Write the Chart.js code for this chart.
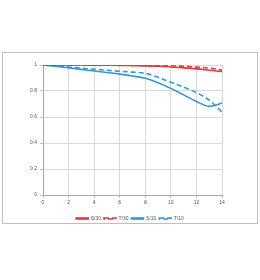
<!DOCTYPE html>
<html>
<head>
<meta charset="utf-8">
<script src="https://cdn.jsdelivr.net/npm/chart.js@4"></script>
<style>
  body { margin: 0; background: #fff; }
  #frame { position: absolute; left: 2px; top: 52px; width: 254px; height: 170px; border: 1px solid #bfbfbf; }
  #frame canvas { display: block; }
</style>
</head>
<body>
<div id="frame"><canvas id="mtfChart" width="254" height="170"></canvas></div>
<script>
// field position (mm) and MTF values
const xS30 = [0, 1, 2, 3, 4, 5, 6, 7, 8, 9, 10, 11, 12, 13, 14];
const s30 = [1, 1, 1, 1, 0.999, 0.998, 0.997, 0.995, 0.993, 0.99, 0.985, 0.978, 0.97, 0.96, 0.95];
const xT30 = [0, 1, 2, 3, 4, 5, 6, 7, 8, 9, 10, 11, 12, 13, 14];
const t30 = [1, 1, 1, 1, 1, 1, 0.999, 0.998, 0.997, 0.995, 0.993, 0.99, 0.984, 0.976, 0.962];
const xS10 = [0, 1, 2, 3, 4, 5, 6, 7, 8, 9, 10, 11, 12, 13, 13.5, 14];
const s10 = [1, 0.99, 0.978, 0.966, 0.954, 0.942, 0.93, 0.916, 0.898, 0.864, 0.82, 0.77, 0.72, 0.682, 0.69, 0.708];
const xT10 = [0, 1, 2, 3, 4, 5, 6, 7, 8, 9, 10, 11, 12, 13, 14];
const t10 = [1, 0.993, 0.985, 0.976, 0.967, 0.96, 0.952, 0.945, 0.936, 0.905, 0.867, 0.83, 0.787, 0.73, 0.638];
const xTicks = [0, 2, 4, 6, 8, 10, 12, 14];
const yTicks = [0, 0.2, 0.4, 0.6, 0.8, 1];

const red = '#e0393e';
const blue = '#3398d4';

const pts = (xs, ys) => xs.map((x, i) => ({ x: x, y: ys[i] }));

const ctx = document.getElementById('mtfChart').getContext('2d');

const mtfChart = new Chart(ctx, {
    type: 'line',
    data: {
        datasets: [
            { label: 'S/30', data: pts(xS30, s30), borderColor: red, borderWidth: 1.6 },
            { label: 'T/30', data: pts(xT30, t30), borderColor: red, borderWidth: 1.6, borderDash: [5, 3] },
            { label: 'S/10', data: pts(xS10, s10), borderColor: blue, borderWidth: 1.6 },
            { label: 'T/10', data: pts(xT10, t10), borderColor: blue, borderWidth: 1.6, borderDash: [5, 3] }
        ]
    },
    options: {
        responsive: false,
        animation: false,
        events: [],
        elements: { point: { radius: 0 }, line: { tension: 0.4, cubicInterpolationMode: 'monotone', fill: false } },
        // negative bottom padding pushes the legend down into the frame's lower margin
        layout: { padding: { left: 0, right: 0, top: 12, bottom: -8 } },
        scales: {
            x: {
                type: 'linear',
                min: 0,
                max: 14,
                afterBuildTicks: s => { s.ticks = xTicks.map(v => ({ value: v })); },
                afterFit: s => { s.height = 18; },
                grid: { color: '#d9d9d9', tickLength: 3, tickColor: '#bfbfbf' },
                border: { color: '#a6a6a6' },
                ticks: { font: { size: 5, family: 'Liberation Sans' }, color: '#595959', padding: 2, maxRotation: 0 }
            },
            y: {
                min: 0,
                max: 1,
                afterBuildTicks: s => { s.ticks = yTicks.map(v => ({ value: v })); },
                afterFit: s => { s.width = 40; },
                grid: { color: '#d9d9d9', tickLength: 3, tickColor: '#bfbfbf' },
                border: { color: '#a6a6a6' },
                ticks: { font: { size: 5, family: 'Liberation Sans' }, color: '#595959', padding: 3, callback: v => String(v) }
            },
            // empty right axis, only keeps the right margin so the legend stays centred
            yRight: {
                position: 'right',
                min: 0,
                max: 1,
                afterFit: s => { s.width = 35; },
                grid: { display: false },
                border: { display: false },
                ticks: { display: false }
            }
        },
        plugins: {
            legend: {
                position: 'bottom',
                labels: {
                    font: { size: 5, family: 'Liberation Sans' },
                    color: '#595959',
                    boxWidth: 12,
                    boxHeight: 1,
                    padding: 3,
                    useBorderRadius: false
                }
            },
            tooltip: { enabled: false }
        }
    }
});
</script>
</body>
</html>
